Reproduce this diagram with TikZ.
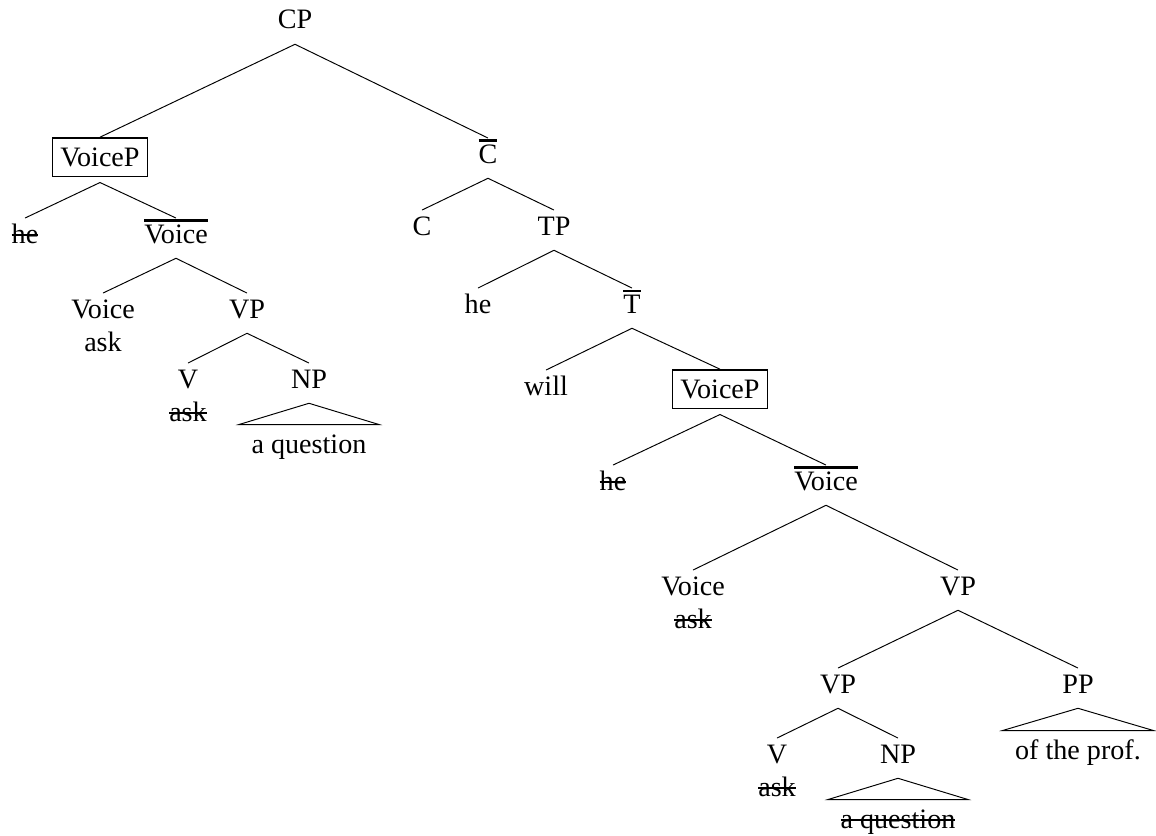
\documentclass[tikz,border=0pt]{standalone}
\usepackage{fontspec}
\setmainfont{Liberation Serif}
\usepackage{tikz}
\usetikzlibrary{positioning}

% barra encima de la etiqueta
\newcommand{\barlabel}[1]{\setbox0=\hbox{#1}\vbox{\hrule height 1.2pt width \wd0\kern 1.6pt\box0}}
% texto tachado (copia borrada)
\newcommand{\struck}[1]{\setbox0=\hbox{#1}\hbox{\rlap{\copy0}\raisebox{3.9pt}{\rule{\wd0}{1.3pt}}}}

\tikzset{
  cat/.style={anchor=base, text height=11pt, text depth=5.5pt, inner ysep=3pt, inner xsep=2pt},
  boxcat/.style={anchor=base, draw, line width=0.8pt, text height=12pt, text depth=2pt, inner ysep=4pt, inner xsep=4.5pt},
  word/.style={text height=9pt, text depth=3pt, inner ysep=3pt, inner xsep=2pt},
  leaf/.style={anchor=base, text height=13pt, text depth=3pt, inner ysep=3pt, inner xsep=7pt},
  branch/.style={line width=0.55pt}
}

\begin{document}
\begin{tikzpicture}[x=0.02cm, y=-0.02cm, font=\fontsize{16}{19}\selectfont]
  \useasboundingbox (0,0) rectangle (1156,835);

  % Raiz
  \node[cat] (cp) at (295,29) {CP};

  % Primer nivel
  \node[boxcat] (voicepA) at (100,166) {VoiceP};
  \node[cat] (cbar) at (488,163) {\barlabel{C}};
  \coordinate (voicepAfoot) at ([yshift=-3pt]voicepA.south);

  % SV movido
  \node[cat] (heA) at (25,243) {\struck{he}};
  \node[cat] (voicebarA) at (176,243) {\barlabel{Voice}};
  \node[cat] (voiceA) at (103,318) {Voice};
  \node[word, below=-2pt of voiceA] (askA) {ask};
  \node[cat] (vpA) at (247,318) {VP};
  \node[cat] (vA) at (188,388) {V};
  \node[word, below=-2pt of vA] (askB) {\struck{ask}};
  \node[cat] (npA) at (309,388) {NP};
  \node[leaf] (questionA) at (309,453) {a question};

  % C, TP
  \node[cat] (c) at (422,235) {C};
  \node[cat] (tp) at (554,235) {TP};
  \node[cat] (heB) at (478,313) {he};
  \node[cat] (tbar) at (632,313) {\barlabel{T}};
  \node[cat] (will) at (546,395) {will};
  \node[boxcat] (voicepB) at (720,398) {VoiceP};
  \coordinate (voicepBfoot) at ([yshift=-3pt]voicepB.south);

  % Copia baja
  \node[cat] (heC) at (613,490) {\struck{he}};
  \node[cat] (voicebarB) at (826,490) {\barlabel{Voice}};
  \node[cat] (voiceB) at (693,595) {Voice};
  \node[word, below=-2pt of voiceB] (askC) {\struck{ask}};
  \node[cat] (vpB) at (958,595) {VP};
  \node[cat] (vpC) at (838,693) {VP};
  \node[cat] (pp) at (1078,693) {PP};
  \node[leaf] (ofprof) at (1078,759) {of the prof.};
  \node[cat] (vB) at (777,763) {V};
  \node[word, below=-2pt of vB] (askD) {\struck{ask}};
  \node[cat] (npB) at (898,763) {NP};
  \node[leaf] (questionB) at (898,828) {\struck{a question}};

  % Conexiones
  \draw[branch] (cp.south) -- (voicepA.north);
  \draw[branch] (cp.south) -- (cbar.north);
  \draw[branch] (voicepAfoot) -- (heA.north);
  \draw[branch] (voicepAfoot) -- (voicebarA.north);
  \draw[branch] (voicebarA.south) -- (voiceA.north);
  \draw[branch] (voicebarA.south) -- (vpA.north);
  \draw[branch] (vpA.south) -- (vA.north);
  \draw[branch] (vpA.south) -- (npA.north);
  \draw[branch] (npA.south) -- (questionA.north west) -- (questionA.north east) -- cycle;
  \draw[branch] (cbar.south) -- (c.north);
  \draw[branch] (cbar.south) -- (tp.north);
  \draw[branch] (tp.south) -- (heB.north);
  \draw[branch] (tp.south) -- (tbar.north);
  \draw[branch] (tbar.south) -- (will.north);
  \draw[branch] (tbar.south) -- (voicepB.north);
  \draw[branch] (voicepBfoot) -- (heC.north);
  \draw[branch] (voicepBfoot) -- (voicebarB.north);
  \draw[branch] (voicebarB.south) -- (voiceB.north);
  \draw[branch] (voicebarB.south) -- (vpB.north);
  \draw[branch] (vpB.south) -- (vpC.north);
  \draw[branch] (vpB.south) -- (pp.north);
  \draw[branch] (pp.south) -- (ofprof.north west) -- (ofprof.north east) -- cycle;
  \draw[branch] (vpC.south) -- (vB.north);
  \draw[branch] (vpC.south) -- (npB.north);
  \draw[branch] (npB.south) -- (questionB.north west) -- (questionB.north east) -- cycle;
\end{tikzpicture}
\end{document}
